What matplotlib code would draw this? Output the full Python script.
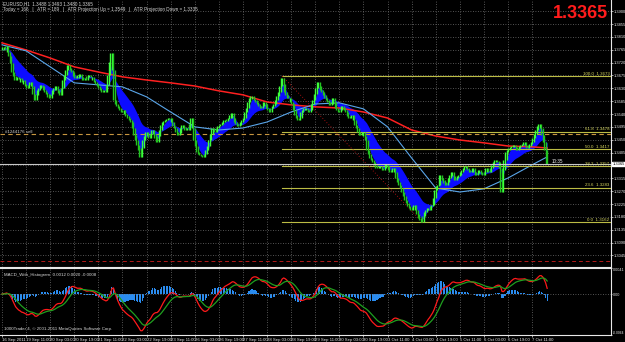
import numpy as np
import pandas as pd
import matplotlib
matplotlib.use("Agg")
import matplotlib.pyplot as plt

plt.rcParams['font.family'] = ['Liberation Sans', 'DejaVu Sans']

# EURUSD H1 closes (in pips)
closes_pips = [
    13764, 13775, 13768, 13778, 13757, 13743, 13719, 13687, 13673, 13659,
    13670, 13663, 13666, 13652, 13659, 13645, 13638, 13631, 13642, 13652,
    13638, 13610, 13589, 13607, 13624, 13631, 13642, 13638, 13624, 13617,
    13610, 13600, 13596, 13610, 13624, 13631, 13638, 13624, 13614, 13607,
    13631, 13659, 13677, 13694, 13712, 13701, 13694, 13687, 13673, 13666,
    13666, 13677, 13680, 13670, 13659, 13666, 13659, 13673, 13677, 13670,
    13670, 13659, 13652, 13645, 13638, 13631, 13624, 13617, 13624, 13617,
    13642, 13677, 13722, 13754, 13694, 13589, 13575, 13568, 13561, 13554,
    13547, 13554, 13540, 13533, 13526, 13519, 13512, 13491, 13467, 13449,
    13432, 13414, 13390, 13421, 13449, 13463, 13477, 13467, 13456, 13470,
    13484, 13470, 13456, 13442, 13463, 13484, 13502, 13512, 13516, 13519,
    13523, 13526, 13526, 13512, 13498, 13491, 13477, 13467, 13474, 13491,
    13502, 13495, 13484, 13491, 13484, 13505, 13526, 13491, 13449, 13428,
    13407, 13400, 13397, 13393, 13390, 13400, 13414, 13428, 13449, 13470,
    13491, 13484, 13477, 13491, 13498, 13502, 13505, 13512, 13519, 13516,
    13523, 13526, 13537, 13544, 13526, 13512, 13505, 13498, 13502, 13512,
    13519, 13526, 13547, 13561, 13582, 13596, 13603, 13593, 13589, 13582,
    13575, 13568, 13561, 13568, 13582, 13575, 13561, 13554, 13547, 13561,
    13568, 13575, 13589, 13603, 13617, 13638, 13666, 13645, 13617, 13607,
    13596, 13596, 13582, 13575, 13554, 13537, 13526, 13519, 13526, 13547,
    13554, 13561, 13561, 13554, 13547, 13554, 13575, 13589, 13610, 13631,
    13652, 13638, 13624, 13617, 13607, 13596, 13589, 13582, 13572, 13575,
    13596, 13582, 13561, 13554, 13547, 13554, 13568, 13561, 13554, 13547,
    13533, 13526, 13533, 13537, 13519, 13502, 13491, 13477, 13467, 13477,
    13477, 13463, 13449, 13414, 13400, 13386, 13379, 13372, 13362, 13351,
    13358, 13358, 13351, 13344, 13351, 13365, 13358, 13344, 13337, 13344,
    13351, 13337, 13316, 13302, 13292, 13281, 13267, 13253, 13239, 13229,
    13218, 13211, 13204, 13215, 13222, 13204, 13190, 13176, 13169, 13162,
    13183, 13197, 13204, 13211, 13204, 13218, 13222, 13246, 13274, 13288,
    13292, 13327, 13316, 13309, 13299, 13292, 13302, 13316, 13327, 13337,
    13323, 13309, 13316, 13323, 13327, 13337, 13344, 13351, 13358, 13351,
    13344, 13337, 13344, 13351, 13337, 13327, 13334, 13344, 13337, 13330,
    13327, 13337, 13351, 13344, 13337, 13351, 13362, 13372, 13379, 13376,
    13372, 13351, 13267, 13344, 13379, 13407, 13414, 13421, 13425, 13428,
    13432, 13425, 13414, 13421, 13428, 13432, 13435, 13442, 13432, 13421,
    13428, 13435, 13442, 13456, 13470, 13484, 13498, 13505, 13491, 13467,
    13442, 13414, 13365,
]

# slow moving averages sampled every 16 bars (pips)
ma_idx = [0, 16, 32, 48, 64, 80, 96, 112, 128, 144, 160, 176, 192, 208,
          224, 240, 256, 272, 288, 304, 320, 336, 352, 362]
ma_red_pips = [13789, 13764, 13736, 13705, 13687, 13670, 13659, 13649, 13638,
               13621, 13607, 13582, 13572, 13565, 13561, 13547, 13526, 13484,
               13463, 13449, 13439, 13428, 13425, 13421]
ma_blue_pips = [13782, 13761, 13705, 13649, 13642, 13635, 13600, 13547, 13495,
                13484, 13491, 13512, 13547, 13575, 13579, 13558, 13495, 13386,
                13281, 13267, 13278, 13316, 13362, 13390]

price_ticks = [1.3900, 1.3855, 1.3810, 1.3765, 1.3720, 1.3675, 1.3630, 1.3585,
               1.3540, 1.3495, 1.3450, 1.3405, 1.3360, 1.3315, 1.3270, 1.3225,
               1.3180, 1.3135, 1.3090, 1.3045]

fib_start = 186
fib_end = 279
fib_high = 1.3673
fib_low = 1.3162
fib_levels = [0.0, 23.6, 38.2, 50.0, 61.8, 100.0]

bid = 1.3365
sell_price = 1.3470
target_price = 1.3026

closes = np.array(closes_pips) / 10000.0
n = len(closes)
idx = np.arange(n)

times = pd.date_range("2011-09-16 19:00", periods=700, freq="h")
times = times[times.dayofweek < 5][:n]
lab_idx = list(range(0, n, 16))
lab_txt = []
for i in lab_idx:
    t = times[i]
    if i == 0:
        lab_txt.append("%d %s %d" % (t.day, t.strftime("%b"), t.year))
    else:
        lab_txt.append("%d %s" % (t.day, t.strftime("%b %H:%M")))

W, H = 625, 342
fig = plt.figure(figsize=(W / 100, H / 100), dpi=100, facecolor="black")
ax = fig.add_axes([0, (H - 267) / H, 611 / W, 267 / H], facecolor="black")
am = fig.add_axes([0, (H - 335) / H, 611 / W, (335 - 268) / H], facecolor="black")

xl = (-2 / 1.506, 609 / 1.506)
grid_kw = dict(color="#707070", linestyle=(0, (1, 2)), linewidth=0.6)

# ---- main price window
s = pd.Series(closes)
fast = s.ewm(span=3, adjust=False).mean()
slow = s.ewm(span=20, adjust=False).mean()
ax.fill_between(idx, fast, slow, color="#0c0cff", linewidth=0, zorder=2)

ax.plot(ma_idx, np.array(ma_red_pips) / 10000.0, color="#ff2020", lw=1.1, zorder=3)
ax.plot(ma_idx, np.array(ma_blue_pips) / 10000.0, color="#5aa6ea", lw=0.8, zorder=3)

# bar extent: previous, own and next close
prev = np.r_[closes[0], closes[:-1]]
nxt = np.r_[closes[1:], closes[-1]]
lo = np.minimum(np.minimum(prev, closes), nxt)
hi = np.maximum(np.maximum(prev, closes), nxt)
cols = np.where(closes >= prev, "#3cff3c", "#22c422")
ax.vlines(idx, lo - 0.0001, hi + 0.0001, colors=cols, lw=1.0, zorder=4)

# fibonacci retracement
for lv in fib_levels:
    p = fib_low + (fib_high - fib_low) * lv / 100.0
    ax.plot([fib_start, xl[1]], [p, p], color="#bcbc44", lw=0.8, zorder=3)
    ax.text(xl[1] - 1, p + 0.0001, "%.1f  %.4f" % (lv, p), color="#d8d860",
            fontsize=3.2, ha="right", va="bottom", zorder=6)
ax.plot([fib_start, fib_end], [fib_high, fib_low], color="#a01010",
        lw=0.7, linestyle=(0, (1, 2)), zorder=3)

ax.axhline(sell_price, color="#c89640", lw=0.8, linestyle=(0, (4, 3)), zorder=3)
ax.text(2, sell_price + 0.00015, "#1244176 sell", color="#d0d0d0",
        fontsize=3.2, va="bottom", zorder=6)
ax.axhline(target_price, color="#b01818", lw=0.7, linestyle=(0, (4, 3)), zorder=3)
ax.axhline(bid, color="#c8c8c8", lw=0.8, zorder=5)
ax.text(369, bid + 0.0001, "10:35", color="#f0f0f0", fontsize=3.3,
        ha="center", va="bottom", zorder=6)

ax.set_xlim(*xl)
ax.set_ylim(1.3939 - 267 * 0.00035, 1.3939)
ax.set_xticks(lab_idx)
ax.set_xticklabels([])
ax.set_yticks(price_ticks)
# the bid marker covers the tick label closest to the bid
ax.set_yticklabels(["" if abs(p - bid) < 0.001 else "%.4f" % p for p in price_ticks])
ax.yaxis.tick_right()
ax.tick_params(axis="y", colors="#e8e8e8", labelsize=2.9, length=1.2, width=0.5, pad=0.6)
ax.tick_params(axis="x", length=0)
ax.grid(True, **grid_kw)
for k in ["top", "left"]:
    ax.spines[k].set_visible(False)
for k in ["right", "bottom"]:
    ax.spines[k].set_color("#e8e8e8")
    ax.spines[k].set_linewidth(0.8)

ax.annotate("%.4f" % bid, xy=(1.0, bid), xycoords=("axes fraction", "data"),
            xytext=(1.2, 0), textcoords="offset points", fontsize=2.9,
            color="black", va="center", ha="left", annotation_clip=False,
            bbox=dict(boxstyle="square,pad=0.1", fc="white", ec="white"))

fig.text(3 / W, 1 - 4 / H, "EURUSD,H1  1.3488 1.3493 1.3480 1.3365",
         color="#d8d8d8", fontsize=3.3, va="center")
fig.text(3 / W, 1 - 10 / H,
         "Today = 166   |   ATR = 189   |   ATR Projection Up = 1.3549   |   ATR Projection Down = 1.3335",
         color="#d8d8d8", fontsize=3.3, va="center")
fig.text(608 / W, 1 - 13 / H, "1.3365", color="#ff1c1c", fontsize=13,
         fontweight="bold", ha="right", va="center")

# ---- MACD window
ema12 = s.ewm(span=12, adjust=False).mean()
ema26 = s.ewm(span=26, adjust=False).mean()
macd = ema12 - ema26
signal = macd.ewm(span=9, adjust=False).mean()
hist = macd - signal
am.bar(idx, hist, width=0.7, color="#2a8cf0", linewidth=0, zorder=2)
am.plot(idx, macd, color="#ff1a1a", lw=0.9, zorder=3)
am.plot(idx, signal, color="#1f9f1f", lw=0.9, zorder=3)
am.axhline(0, **grid_kw)

am.set_xlim(*xl)
am.set_ylim(-0.0064, 0.0041)
am.set_yticks([0.0041, 0.0, -0.0064])
am.set_yticklabels(["0.0041", "0.00", "-0.0064"])
am.yaxis.tick_right()
am.tick_params(axis="y", colors="#e8e8e8", labelsize=2.7, length=1.0, width=0.5, pad=0.4)
ylabs = am.get_yticklabels()
ylabs[0].set_va("top")
ylabs[2].set_va("bottom")
ylabs[2].set_fontsize(2.4)
am.set_xticks(lab_idx)
am.set_xticklabels(lab_txt, ha="left")
am.tick_params(axis="x", colors="#e8e8e8", labelsize=3.1, length=1.2, width=0.5, pad=1)
am.xaxis.grid(True, **grid_kw)
am.spines["left"].set_visible(False)
for k in ["top", "right", "bottom"]:
    am.spines[k].set_color("#e8e8e8")
    am.spines[k].set_linewidth(0.8)
am.text(0.006, 0.93, "MACD_With_Histogram  0.0012 0.0020 -0.0008",
        transform=am.transAxes, color="#d8d8d8", fontsize=3.2, va="top")
am.text(0.006, 0.06, "1000Trader 4, \u00a9 2001-2011 MetaQuotes Software Corp.",
        transform=am.transAxes, color="#d8d8d8", fontsize=3.2, va="bottom")

fig.savefig("out.png", dpi=100, facecolor="black")
